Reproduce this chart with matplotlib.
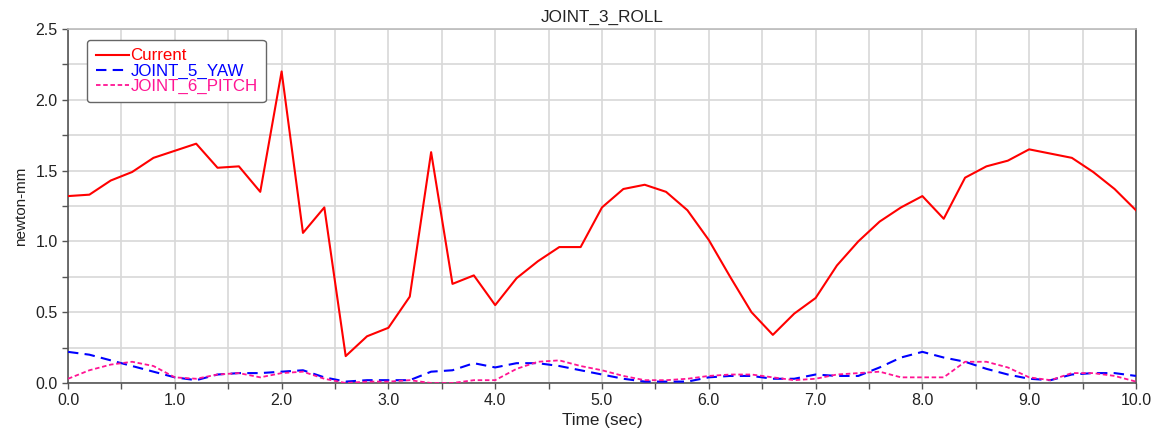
import numpy as np
import matplotlib
matplotlib.use("Agg")
import matplotlib.pyplot as plt
from matplotlib.ticker import MultipleLocator, FormatStrFormatter

plt.rcParams['font.family'] = ['Liberation Sans', 'DejaVu Sans']

time = [round(0.2 * i, 1) for i in range(51)]
current = [1.32, 1.33, 1.43, 1.49, 1.59, 1.64, 1.69, 1.52, 1.53, 1.35,
           2.20, 1.06, 1.24, 0.19, 0.33, 0.39, 0.61, 1.63, 0.70, 0.76,
           0.55, 0.74, 0.86, 0.96, 0.96, 1.24, 1.37, 1.40, 1.35, 1.22,
           1.01, 0.75, 0.50, 0.34, 0.49, 0.60, 0.83, 1.00, 1.14, 1.24,
           1.32, 1.16, 1.45, 1.53, 1.57, 1.65, 1.62, 1.59, 1.49, 1.37,
           1.22]
yaw = [0.22, 0.20, 0.16, 0.12, 0.08, 0.04, 0.02, 0.06, 0.07, 0.07,
       0.08, 0.09, 0.04, 0.01, 0.02, 0.02, 0.02, 0.08, 0.09, 0.14,
       0.11, 0.14, 0.14, 0.12, 0.09, 0.06, 0.03, 0.01, 0.01, 0.01,
       0.04, 0.05, 0.05, 0.03, 0.03, 0.06, 0.05, 0.05, 0.11, 0.18,
       0.22, 0.18, 0.15, 0.10, 0.06, 0.03, 0.02, 0.06, 0.07, 0.07,
       0.05]
pitch = [0.03, 0.09, 0.13, 0.15, 0.12, 0.04, 0.03, 0.06, 0.07, 0.04,
         0.07, 0.08, 0.03, 0.00, 0.01, 0.01, 0.02, 0.00, 0.00, 0.02,
         0.02, 0.10, 0.15, 0.16, 0.12, 0.09, 0.05, 0.02, 0.02, 0.03,
         0.05, 0.06, 0.06, 0.04, 0.02, 0.03, 0.06, 0.07, 0.08, 0.04,
         0.04, 0.04, 0.15, 0.15, 0.11, 0.04, 0.02, 0.07, 0.07, 0.05,
         0.01]

fig = plt.figure(figsize=(11.57, 4.32), dpi=100)
ax = fig.add_axes([0.0588, 0.1134, 0.9230, 0.8195])

ax.plot(time, current, color='#FF0000', lw=1.5, label='Current', zorder=4)
ax.plot(time, yaw, color='#0000FF', lw=1.5, ls=(0, (5, 3)), label='JOINT_5_YAW', zorder=3)
ax.plot(time, pitch, color='#FF1493', lw=1.3, ls=(0, (2.5, 1.5)), label='JOINT_6_PITCH', zorder=3)

ax.set_xlim(0, 10)
ax.set_ylim(0, 2.5)
ax.xaxis.set_major_locator(MultipleLocator(1.0))
ax.xaxis.set_minor_locator(MultipleLocator(0.5))
ax.yaxis.set_major_locator(MultipleLocator(0.5))
ax.yaxis.set_minor_locator(MultipleLocator(0.25))
ax.xaxis.set_major_formatter(FormatStrFormatter('%.1f'))
ax.yaxis.set_major_formatter(FormatStrFormatter('%.1f'))

ax.grid(True, which='both', color='#D8D8D8', lw=1.2, zorder=0)
ax.set_axisbelow(True)
ax.tick_params(which='both', direction='out', length=4, width=1, color='#555555',
               labelsize=11.5, labelcolor='#222222')
for s in ['left', 'bottom', 'right']:
    ax.spines[s].set_color('#555555')
    ax.spines[s].set_linewidth(1.2)
ax.spines['top'].set_color('#BBBBBB')
ax.spines['top'].set_linewidth(1.2)

ax.set_title('JOINT_3_ROLL', fontsize=12.3, color='#222222', pad=5)
ax.set_xlabel('Time (sec)', fontsize=12.3, color='#222222', labelpad=3)
ax.set_ylabel('newton-mm', fontsize=11, color='#222222', labelpad=5)

leg = ax.legend(loc='upper left', bbox_to_anchor=(0.0178, 0.969), fontsize=12.2,
                handlelength=2.0, handletextpad=0.05, borderpad=0.5,
                borderaxespad=0, labelspacing=0.0, fancybox=True, framealpha=1,
                edgecolor='#666666')
leg.get_frame().set_linewidth(1.0)
for t, c in zip(leg.get_texts(), ['#FF0000', '#0000FF', '#FF1493']):
    t.set_color(c)

fig.savefig('out.png', dpi=100)
